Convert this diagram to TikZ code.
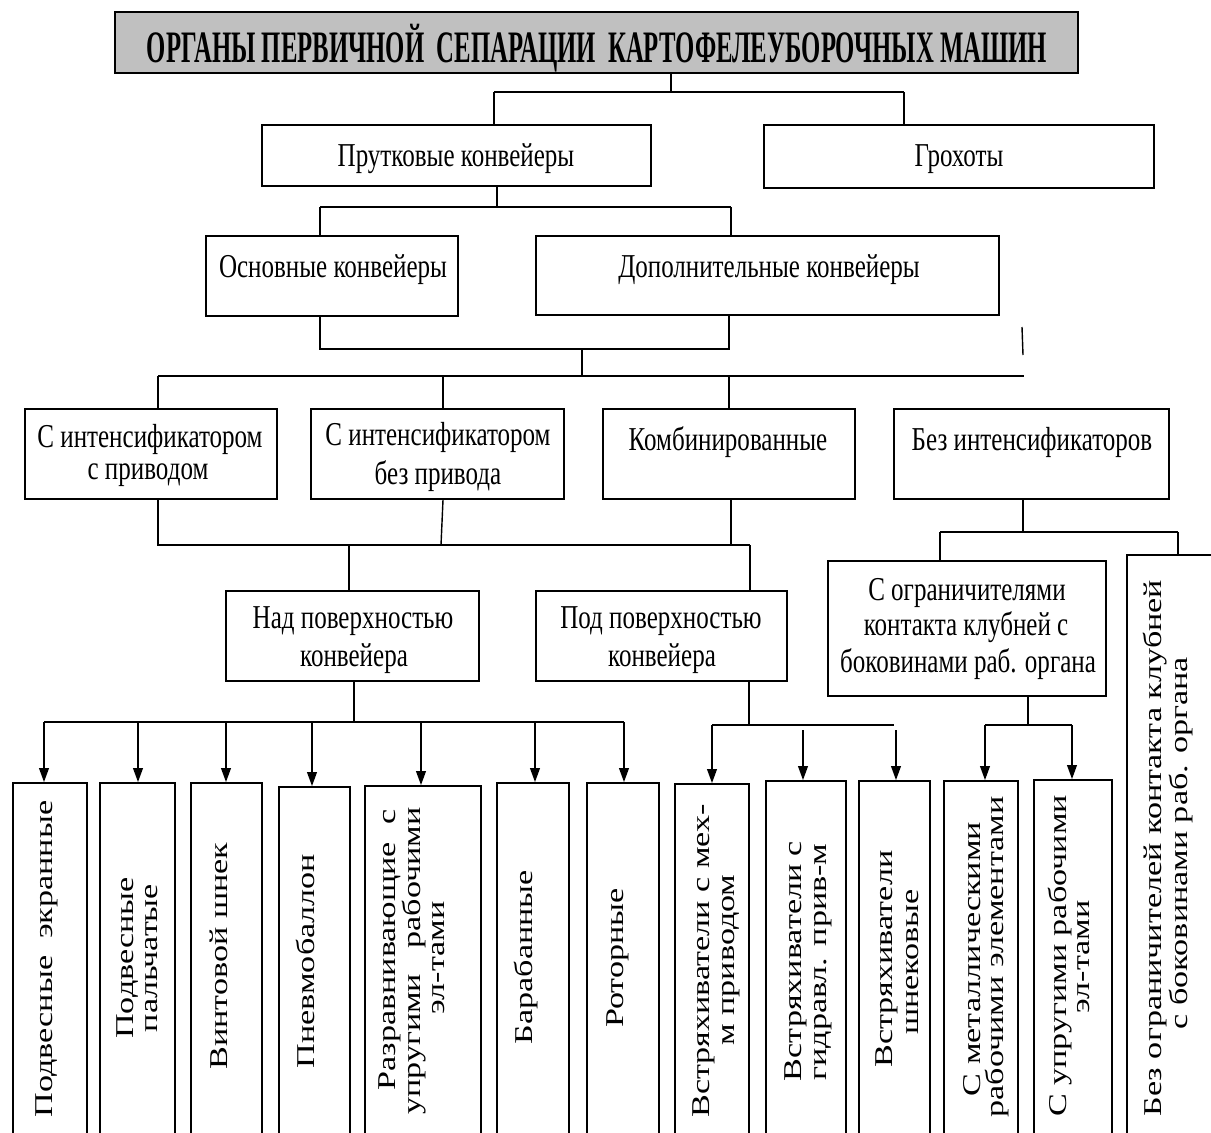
\documentclass[tikz,border=0pt]{standalone}
\usepackage{fontspec}
\usepackage{graphicx}
\setmainfont{Liberation Serif}
\newfontfamily\hfam[FakeStretch=0.75]{Liberation Serif}
\newfontfamily\vfam[FakeStretch=1.33]{Liberation Serif}
\newfontfamily\tfam[FakeStretch=0.55]{Liberation Serif}
\usetikzlibrary{fit,arrows.meta}
\definecolor{titlegray}{RGB}{192,192,192}
\begin{document}
\begin{tikzpicture}[x=0.02cm,y=-0.02cm,
  box/.style={draw, line width=1.05pt, inner sep=0pt, fit={#1}},
  ht/.style={font=\hfam\fontsize{19}{21}\selectfont, anchor=base, inner sep=0pt},
  vt/.style={font=\vfam\fontsize{14.6}{16}\selectfont, anchor=base, rotate=90, inner sep=0pt},
  conn/.style={line width=0.8pt},
  arr/.style={conn, -{Triangle[length=8pt,width=5.6pt]}}]
\useasboundingbox (0,0) rectangle (1211,1133);
\fill[white] (0,0) rectangle (1211,1133);
\clip (0,0) rectangle (1211,1133);

% ---------- boxes ----------
\node[box={(115,12) (1078,73)}, fill=titlegray, line width=1.3pt] (title) {};
\node[box={(262,125) (651,186)}] (prut) {};
\node[box={(764,125) (1154,188)}] (groh) {};
\node[box={(206,236) (458,316)}] (osn) {};
\node[box={(536,236) (999,315)}] (dop) {};
\node[box={(25,409) (277,499)}] (intA) {};
\node[box={(311,409) (564,499)}] (intB) {};
\node[box={(603,409) (855,499)}] (komb) {};
\node[box={(894,409) (1169,499)}] (bez) {};
\node[box={(226,591) (479,681)}] (nad) {};
\node[box={(536,591) (787,681)}] (pod) {};
\node[box={(828,561) (1106,696)}] (ogr) {};
\node[box={(13,783) (87,1145)}] (v1) {};
\node[box={(100,783) (175,1145)}] (v2) {};
\node[box={(191,783) (262,1145)}] (v3) {};
\node[box={(279,787) (350,1145)}] (v4) {};
\node[box={(365,786) (481,1145)}] (v5) {};
\node[box={(497,783) (569,1145)}] (v6) {};
\node[box={(587,783) (659,1145)}] (v7) {};
\node[box={(675,784) (749,1145)}] (v8) {};
\node[box={(766,781) (846,1145)}] (v9) {};
\node[box={(859,781) (930,1145)}] (v10) {};
\node[box={(944,781) (1018,1145)}] (v11) {};
\node[box={(1034,780) (1112,1145)}] (v12) {};
\node[box={(1127,555) (1240,1145)}] (v13) {};

% ---------- horizontal texts ----------
\node[anchor=base, inner sep=0pt, font=\tfam\bfseries\fontsize{25.6}{28}\selectfont] (titletxt) at (597,62)
  {ОРГАНЫ ПЕРВИЧНОЙ~~СЕПАРАЦИИ~~КАРТОФЕЛЕУБОРОЧНЫХ МАШИН};
\node[ht] (tprut) at (456,166) {Прутковые конвейеры};
\node[ht] (tgroh) at (959,166) {Грохоты};
\node[ht] (tosn) at (333,277) {Основные конвейеры};
\node[ht] (tdop) at (769,277) {Дополнительные конвейеры};
\node[ht] (tA1) at (150,447) {С интенсификатором};
\node[ht] (tA2) at (148,479) {с приводом};
\node[ht] (tB1) at (438,445) {С интенсификатором};
\node[ht] (tB2) at (438,484) {без привода};
\node[ht] (tkomb) at (728,450) {Комбинированные};
\node[ht] (tbez) at (1032,450) {Без интенсификаторов};
\node[ht] (tnad1) at (353,628) {Над поверхностью};
\node[ht] (tnad2) at (354,666) {конвейера};
\node[ht] (tpod1) at (661,628) {Под поверхностью};
\node[ht] (tpod2) at (662,666) {конвейера};
\node[ht] (togr1) at (967,600) {С ограничителями};
\node[ht] (togr2) at (966,635) {контакта клубней с};
\node[ht] (togr3) at (968,672) {боковинами раб. органа};

% ---------- vertical texts ----------
\node[vt] (tv1) at (52,959) {Подвесные~~экранные};
\node[vt] (tv2a) at (133,958) {Подвесные};
\node[vt] (tv2b) at (157,958) {пальчатые};
\node[vt] (tv3) at (227,956) {Винтовой шнек};
\node[vt] (tv4) at (314,961) {Пневмобаллон};
\node[vt] (tv5a) at (395,950) {Разравнивающие~~с};
\node[vt] (tv5b) at (420,961) {упругими~~~рабочими};
\node[vt] (tv5c) at (444,958) {эл-тами};
\node[vt] (tv6) at (532,957) {Барабанные};
\node[vt] (tv7) at (623,958) {Роторные};
\node[vt] (tv8a) at (709,961) {Встряхиватели с мех-};
\node[vt] (tv8b) at (734,960) {м приводом};
\node[vt] (tv9a) at (801,961) {Встряхиватели с};
\node[vt] (tv9b) at (826,962) {гидравл. прив-м};
\node[vt] (tv10a) at (892,959) {Встряхиватели};
\node[vt] (tv10b) at (918,962) {шнековые};
\node[vt] (tv11a) at (980,959) {С металлическими};
\node[vt] (tv11b) at (1003,957) {рабочими элементами};
\node[vt] (tv12a) at (1066,956) {С упругими рабочими};
\node[vt] (tv12b) at (1089,957) {эл-тами};
\node[vt] (tv13a) at (1161,848) {Без ограничителей контакта клубней};
\node[vt] (tv13b) at (1187,843) {с боковинами раб. органа};

% ---------- bus coordinates ----------
\coordinate (b1) at (671,92);  \coordinate (b1L) at (494,92);  \coordinate (b1R) at (904,92);
\coordinate (b2) at (497,207); \coordinate (b2L) at (320,207); \coordinate (b2R) at (731,207);
\coordinate (b3) at (582,349); \coordinate (b3L) at (320,349); \coordinate (b3R) at (729,349);
\coordinate (b4) at (582,376); \coordinate (b4L) at (158,376); \coordinate (b4R) at (1024,376);
\coordinate (b4b) at (443,376); \coordinate (b4c) at (729,376);
\coordinate (t1) at (1022,327); \coordinate (t2) at (1023,355);
\coordinate (b5L) at (158,545); \coordinate (b5R) at (750,545); \coordinate (b5a) at (349,545);
\coordinate (b5b) at (441,545); \coordinate (b5c) at (731,545);
\coordinate (b6) at (1023,532); \coordinate (b6L) at (940,532); \coordinate (b6R) at (1178,532);
\coordinate (b7) at (354,722); \coordinate (b7L) at (44,722); \coordinate (b7R) at (624,722);
\coordinate (a2) at (138,722); \coordinate (a3) at (226,722); \coordinate (a4) at (312,722);
\coordinate (a5) at (421,722); \coordinate (a6) at (535,722);
\coordinate (b8) at (749,725); \coordinate (b8L) at (712,725); \coordinate (b8R) at (894,725);
\coordinate (a9) at (803,730); \coordinate (a10) at (896,730);
\coordinate (b9) at (1028,725); \coordinate (b9L) at (985,725); \coordinate (b9R) at (1072,725);

% ---------- connectors ----------
\draw[conn] (title.south -| b1) -- (b1);
\draw[conn] (b1L) -- (b1R);
\draw[conn] (b1L) -- (b1L |- prut.north);
\draw[conn] (b1R) -- (b1R |- groh.north);

\draw[conn] (prut.south -| b2) -- (b2);
\draw[conn] (b2L) -- (b2R);
\draw[conn] (b2L) -- (b2L |- osn.north);
\draw[conn] (b2R) -- (b2R |- dop.north);

\draw[conn] (osn.south -| b3L) -- (b3L) -- (b3R) -- (dop.south -| b3R);
\draw[conn] (b3) -- (b4);
\draw[conn] (b4L) -- (b4R);
\draw[conn] (t1) -- (t2);
\draw[conn] (b4L) -- (b4L |- intA.north);
\draw[conn] (b4b) -- (b4b |- intB.north);
\draw[conn] (b4c) -- (b4c |- komb.north);

\draw[conn] (intA.south -| b5L) -- (b5L) -- (b5R);
\draw[conn] (intB.south -| b4b) -- (b5b);
\draw[conn] (komb.south -| b5c) -- (b5c);
\draw[conn] (b5a) -- (b5a |- nad.north);
\draw[conn] (b5R) -- (b5R |- pod.north);

\draw[conn] (bez.south -| b6) -- (b6);
\draw[conn] (b6L) -- (b6R);
\draw[conn] (b6L) -- (b6L |- ogr.north);
\draw[conn] (b6R) -- (b6R |- v13.north);

\draw[conn] (nad.south -| b7) -- (b7);
\draw[conn] (b7L) -- (b7R);
\draw[arr] (b7L) -- (b7L |- v1.north);
\draw[arr] (a2) -- (a2 |- v2.north);
\draw[arr] (a3) -- (a3 |- v3.north);
\draw[arr] (a4) -- (a4 |- v4.north);
\draw[arr] (a5) -- (a5 |- v5.north);
\draw[arr] (a6) -- (a6 |- v6.north);
\draw[arr] (b7R) -- (b7R |- v7.north);

\draw[conn] (pod.south -| b8) -- (b8);
\draw[conn] (b8L) -- (b8R);
\draw[arr] (b8L) -- (b8L |- v8.north);
\draw[arr] (a9) -- (a9 |- v9.north);
\draw[arr] (a10) -- (a10 |- v10.north);

\draw[conn] (ogr.south -| b9) -- (b9);
\draw[conn] (b9L) -- (b9R);
\draw[arr] (b9L) -- (b9L |- v11.north);
\draw[arr] (b9R) -- (b9R |- v12.north);
\end{tikzpicture}
\end{document}
